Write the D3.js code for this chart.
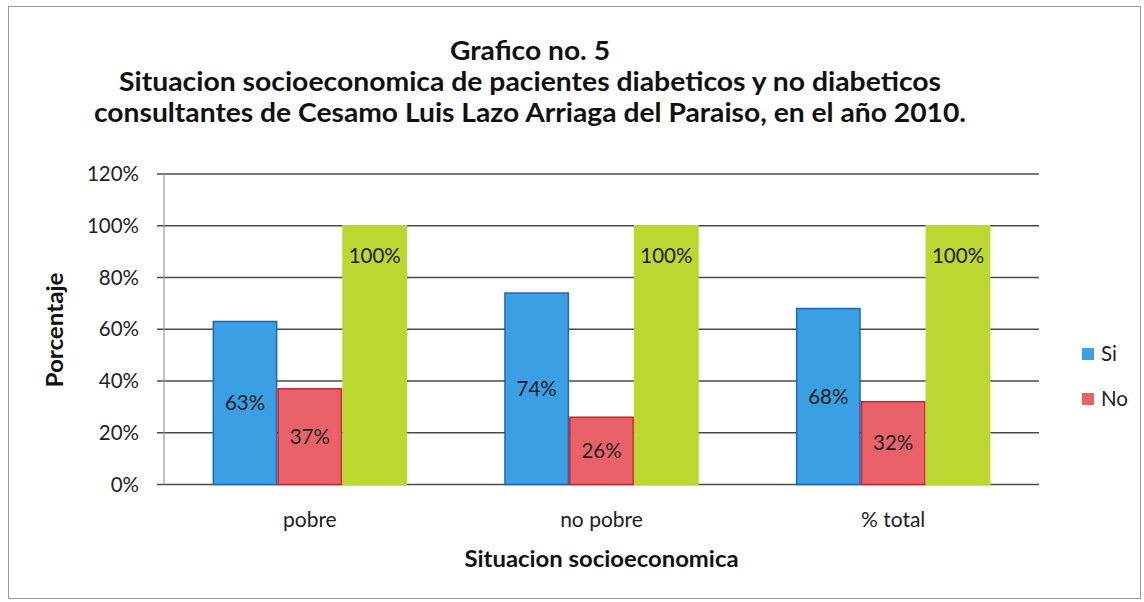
<!DOCTYPE html>
<html>
<head>
<meta charset="utf-8">
<script src="https://cdn.jsdelivr.net/npm/d3@7"></script>
<style>
  html, body { margin: 0; padding: 0; background: #fff; }
  svg { display: block; }
  text { font-family: Lato, "Open Sans", "Noto Sans", sans-serif; }
</style>
</head>
<body>
<svg id="chart" width="1144" height="602"></svg>
<script>
// ---- data ----
const categories = ["pobre", "no pobre", "% total"];
const seriesNames = ["Si", "No", "Total"];
const siValues = [0.63, 0.74, 0.68];
const noValues = [0.37, 0.26, 0.32];
const totalValues = [1.00, 1.00, 1.00];
const yTicks = [0, 0.2, 0.4, 0.6, 0.8, 1.0, 1.2];
const legendNames = ["Si", "No"];
const titleLines = [
  "Grafico no. 5",
  "Situacion socioeconomica de pacientes diabeticos y no diabeticos",
  "consultantes de Cesamo Luis Lazo Arriaga del Paraiso, en el año 2010."
];
const xTitle = "Situacion socioeconomica";
const yTitle = "Porcentaje";

// ---- setup ----
const svg = d3.select("#chart");
const plot = { left: 164, right: 1039, top: 174, bottom: 484.5 };
const colors = { Si: "#3b9fe3", No: "#e9626a", Total: "#bcd731" };
const strokes = { Si: "#1c67b5", No: "#c3262e", Total: "#bcd731" };

function setWidth(sel, target) {
  sel.attr("textLength", target).attr("lengthAdjust", "spacingAndGlyphs");
  return sel;
}

// frame
svg.append("rect").attr("x", 8.5).attr("y", 6.5).attr("width", 1132).attr("height", 592)
  .attr("fill", "#fff").attr("stroke", "#9a9a9a").attr("stroke-width", 1);

const x0 = d3.scaleBand().domain(categories).range([plot.left, plot.right])
  .paddingInner(0.333).paddingOuter(0.1665);
const x1 = d3.scaleBand().domain(seriesNames).range([0, x0.bandwidth()]).padding(0);
const y = d3.scaleLinear().domain([0, 1.2]).range([plot.bottom, plot.top]);

// gridlines
svg.append("g").selectAll("line").data(yTicks).join("line")
  .attr("x1", plot.left - 7).attr("x2", plot.right)
  .attr("y1", d => y(d)).attr("y2", d => y(d))
  .attr("stroke", "#4a4a4a").attr("stroke-width", 1.4);

// y axis line
svg.append("line").attr("x1", plot.left).attr("x2", plot.left)
  .attr("y1", plot.top).attr("y2", plot.bottom)
  .attr("stroke", "#9a9a9a").attr("stroke-width", 1.2);

// y tick labels
const fmt = d3.format(".0%");
svg.append("g").selectAll("text").data(yTicks).join("text")
  .attr("x", 139).attr("y", d => y(d)).attr("dy", "0.35em")
  .attr("text-anchor", "end").attr("font-size", 20.5).attr("fill", "#222")
  .text(d => fmt(d));

// bars
const rows = categories.map((c, i) => ({
  cat: c,
  vals: [
    { s: "Si", v: siValues[i] },
    { s: "No", v: noValues[i] },
    { s: "Total", v: totalValues[i] }
  ]
}));

const groups = svg.append("g").selectAll("g").data(rows).join("g")
  .attr("transform", d => `translate(${x0(d.cat)},0)`);

groups.selectAll("rect").data(d => d.vals).join("rect")
  .attr("x", d => x1(d.s) + 0.75).attr("width", x1.bandwidth() - 1.5)
  .attr("y", d => y(d.v)).attr("height", d => y(0) - y(d.v))
  .attr("fill", d => colors[d.s]).attr("stroke", d => strokes[d.s]).attr("stroke-width", 1.5);

// data labels
groups.selectAll("text").data(d => d.vals).join("text")
  .attr("x", d => x1(d.s) + x1.bandwidth() / 2)
  .attr("y", d => d.s === "Total" ? y(d.v) + 30 : (y(d.v) + y(0)) / 2)
  .attr("dy", "0.35em").attr("text-anchor", "middle")
  .attr("font-size", 20.5).attr("fill", "#1e1e1e")
  .text(d => fmt(d.v));

// category labels
svg.append("g").selectAll("text").data(categories).join("text")
  .attr("x", d => x0(d) + x0.bandwidth() / 2).attr("y", 527)
  .attr("text-anchor", "middle").attr("font-size", 21).attr("fill", "#222")
  .text(d => d);

// axis titles
setWidth(svg.append("text").attr("x", (plot.left + plot.right) / 2).attr("y", 567)
  .attr("text-anchor", "middle").attr("font-size", 23).attr("font-weight", "bold")
  .attr("fill", "#111").text(xTitle), 274);

setWidth(svg.append("text").attr("transform", "translate(63,330) rotate(-90)")
  .attr("text-anchor", "middle").attr("font-size", 23).attr("font-weight", "bold")
  .attr("fill", "#111").text(yTitle), 115);

// title
const titleBase = [60, 91, 122];
const titleWidths = [160, 822, 872];
titleLines.forEach((t, i) => {
  setWidth(svg.append("text").attr("x", 530).attr("y", titleBase[i])
    .attr("text-anchor", "middle").attr("font-size", 26).attr("font-weight", "bold")
    .attr("fill", "#111").text(t), titleWidths[i]);
});

// legend
const leg = svg.append("g").selectAll("g").data(legendNames).join("g")
  .attr("transform", (d, i) => `translate(1082,${354 + i * 45})`);
leg.append("rect").attr("x", 0).attr("y", -6).attr("width", 12).attr("height", 12)
  .attr("fill", d => colors[d]);
leg.append("text").attr("x", 19).attr("y", 0).attr("dy", "0.35em")
  .attr("font-size", 20.5).attr("fill", "#222").text(d => d);
</script>
</body>
</html>
